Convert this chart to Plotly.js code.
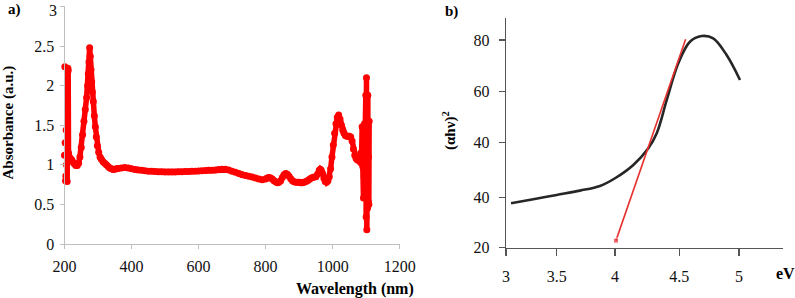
<!DOCTYPE html>
<html>
<head>
<meta charset="utf-8">
<script src="https://cdn.plot.ly/plotly-3.0.1.min.js"></script>
<style>html,body{margin:0;padding:0;background:#fff;}#chart{width:795px;height:298px;}</style>
</head>
<body>
<div id="chart"></div>
<script>
// ---- Panel a: absorbance spectrum ----
var wavelength = [200,201,202,203,204,205,206,207,208,209,210,211,212,214,218,222,226,230,234,238,242,246,250,254,258,262,266,269,271,273,275,277,279,281,283,286,289,292,295,298,302,306,310,315,320,325,330,335,340,345,350,355,360,370,380,390,400,410,420,430,440,450,460,470,480,490,500,510,520,530,540,550,560,570,580,590,600,610,620,630,640,650,660,670,680,690,700,710,720,730,740,750,760,770,780,790,800,805,810,815,820,825,830,835,840,845,850,855,860,865,870,875,880,885,890,895,900,905,910,915,920,925,930,935,940,945,950,955,960,963,966,970,974,978,982,986,990,994,998,1002,1006,1010,1014,1018,1022,1026,1030,1034,1038,1042,1046,1050,1054,1058,1062,1066,1070,1074,1078,1081,1084,1086,1088,1090,1092,1093,1094,1095,1096,1097,1098,1099,1100,1101,1102,1103,1104,1105,1106,1107,1108,1109];
var absorbance = [1.12,2.24,1.28,0.80,0.86,1.44,1.00,1.12,0.79,1.29,2.22,2.19,1.15,1.10,1.08,1.06,1.03,1.01,0.99,0.99,1.02,1.10,1.22,1.38,1.55,1.70,1.85,2.00,2.15,2.30,2.48,2.37,2.20,2.05,1.92,1.80,1.62,1.48,1.35,1.24,1.16,1.10,1.07,1.04,1.02,1.00,0.98,0.96,0.95,0.94,0.945,0.95,0.955,0.96,0.965,0.96,0.95,0.94,0.935,0.93,0.925,0.92,0.918,0.916,0.914,0.912,0.91,0.91,0.91,0.91,0.912,0.914,0.915,0.916,0.918,0.92,0.922,0.925,0.928,0.93,0.932,0.935,0.94,0.945,0.945,0.935,0.92,0.905,0.89,0.875,0.865,0.855,0.845,0.835,0.82,0.81,0.82,0.835,0.84,0.835,0.82,0.80,0.785,0.775,0.78,0.80,0.84,0.875,0.89,0.88,0.855,0.825,0.80,0.785,0.78,0.78,0.78,0.775,0.775,0.78,0.79,0.80,0.815,0.83,0.84,0.845,0.85,0.88,0.93,0.945,0.93,0.89,0.83,0.79,0.78,0.80,0.85,0.95,1.10,1.25,1.40,1.52,1.60,1.63,1.58,1.50,1.44,1.40,1.37,1.36,1.36,1.36,1.35,1.30,1.20,1.12,1.08,1.06,1.10,1.05,1.15,1.02,1.48,0.98,0.58,1.30,0.85,1.52,0.60,1.40,0.80,1.88,0.34,2.10,0.18,1.55,0.45,1.88,0.54,1.10,0.50,1.55];
var xTicksA = [200,400,600,800,1000,1200];
var yTicksA = [0,0.5,1,1.5,2,2.5,3];
var yTickTextA = ['0','0.5','1','1.5','2','2.5',''];
var yTopLabelA = '3';

// ---- Panel b: Tauc plot ----
var energy = [3.043,3.234,3.435,3.635,3.807,3.936,4.093,4.222,4.294,4.380,4.479,4.579,4.680,4.779,4.894,5.009];
var tauc   = [16.15,17.71,19.39,21.08,22.91,25.92,31.12,37.65,43.52,56.54,70.89,79.33,81.56,80.66,74.13,64.36];
var fitX = [3.944,4.542];
var fitY = [1.52,80.27];
var xTickValsB = [3,3.435,3.936,4.488,5];
var xTickTextB = ['3','3.5','4','4.5','5'];
var yTickValsB = [-1.2,18.5,40,60,80];
var yTickTextB = ['20','40','40','60','80'];

var W = 795, H = 298;
function px(x){return x/W;}
function py(y){return 1 - y/H;}
var serif = '"Liberation Serif", "Times New Roman", Times, serif';

var traces = [
  {x: wavelength, y: absorbance, xaxis:'x', yaxis:'y', type:'scatter', mode:'lines+markers',
   line:{color:'#ff0000', width:5.5}, marker:{color:'#ff0000', size:7}, hoverinfo:'skip', cliponaxis:false},
  {x: energy, y: tauc, xaxis:'x2', yaxis:'y2', type:'scatter', mode:'lines',
   line:{color:'#262626', width:2.6, shape:'spline'}, hoverinfo:'skip'},
  {x: fitX, y: fitY, xaxis:'x2', yaxis:'y2', type:'scatter', mode:'lines+markers',
   line:{color:'#e8302e', width:1.6}, marker:{color:'#e8302e', size:[5,0], symbol:'square'}, hoverinfo:'skip'}
];

var axA = {showgrid:false, zeroline:false, showline:true, linecolor:'#bfbfbf', linewidth:1,
  ticks:'outside', ticklen:4, tickcolor:'#bfbfbf', ticklabeloverflow:'allow', tickfont:{family:serif, size:16, color:'#111'}};
var axB = {showgrid:false, zeroline:false, showline:true, linecolor:'#555', linewidth:1.3,
  ticks:'outside', ticklen:7, tickcolor:'#555', tickwidth:1.3, ticklabeloverflow:'allow', tickfont:{family:serif, size:16, color:'#111'}};

var layout = {
  width:W, height:H, margin:{l:0,r:0,t:0,b:0}, showlegend:false,
  paper_bgcolor:'#fff', plot_bgcolor:'#fff',
  font:{family:serif},
  xaxis: Object.assign({}, axA, {domain:[px(64.5), px(400)], range:[200,1201], tickmode:'array', tickvals:xTicksA, anchor:'y', ticklabelstandoff:4}),
  yaxis: Object.assign({}, axA, {domain:[py(244), py(6.3)], range:[0,3.002], tickmode:'array', tickvals:yTicksA, ticktext:yTickTextA, anchor:'x', ticklabelstandoff:2}),
  xaxis2: Object.assign({}, axB, {domain:[px(506), px(783)], range:[3,5.378], tickmode:'array', tickvals:xTickValsB, ticktext:xTickTextB, anchor:'y2', ticklabelstandoff:7}),
  yaxis2: Object.assign({}, axB, {domain:[py(247.7), py(18.3)], range:[-1.25,88.5], tickmode:'array', tickvals:yTickValsB, ticktext:yTickTextB, anchor:'x2', ticklen:6, ticklabelstandoff:6}),
  annotations: [
    {text:yTopLabelA, x:px(59), y:py(10.5), xref:'paper', yref:'paper', showarrow:false, xanchor:'right', yanchor:'middle', font:{family:serif, size:16, color:'#111'}},
    {text:'<b>a)</b>', x:px(14), y:py(10), xref:'paper', yref:'paper', showarrow:false, xanchor:'center', yanchor:'middle', font:{family:serif, size:15, color:'#000'}},
    {text:'<b>b)</b>', x:px(451), y:py(12), xref:'paper', yref:'paper', showarrow:false, xanchor:'center', yanchor:'middle', font:{family:serif, size:15, color:'#000'}},
    {text:'<b>Absorbance (a.u.)</b>', x:px(7.5), y:py(123), xref:'paper', yref:'paper', showarrow:false, textangle:-90, xanchor:'center', yanchor:'middle', font:{family:serif, size:15, color:'#000'}},
    {text:'<b>Wavelength (nm)</b>', x:px(354.5), y:py(289), xref:'paper', yref:'paper', showarrow:false, xanchor:'center', yanchor:'middle', font:{family:serif, size:16, color:'#000'}},
    {text:'<b>(αhν)<sup>2</sup></b>', x:px(449), y:py(131), xref:'paper', yref:'paper', showarrow:false, textangle:-90, xanchor:'center', yanchor:'middle', font:{family:serif, size:15, color:'#000'}},
    {text:'<b>eV</b>', x:px(785.5), y:py(273), xref:'paper', yref:'paper', showarrow:false, xanchor:'center', yanchor:'middle', font:{family:serif, size:16, color:'#000'}}
  ]
};

Plotly.newPlot('chart', traces, layout, {staticPlot:true, displayModeBar:false});
</script>
</body>
</html>
